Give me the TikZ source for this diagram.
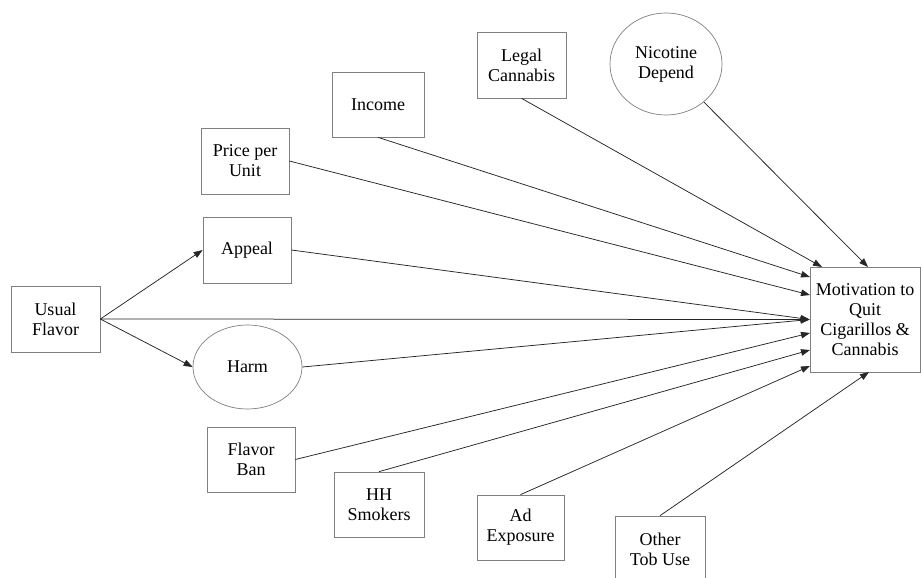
\documentclass[tikz,border=0pt]{standalone}
\usepackage{fontspec}
\setmainfont{Liberation Serif}
\usetikzlibrary{arrows.meta,shapes.geometric}
\begin{document}
\begin{tikzpicture}[x=1pt,y=-1pt,
  every node/.style={inner sep=0pt, align=center, font=\fontsize{18}{20}\selectfont},
  box/.style={draw=black!50, line width=0.7pt, rectangle},
  oval/.style={draw=black!50, line width=0.7pt, ellipse},
  arr/.style={draw=black!85, line width=0.75pt, -{Triangle[length=9pt,width=6.5pt]}}
]
\useasboundingbox (0,0) rectangle (921,578);
\clip (0,0) rectangle (921,578);
\fill[white] (0,0) rectangle (921,578);

\node[box, minimum width=89pt, minimum height=66pt] (uf) at (55.5,319) {Usual\\Flavor};
\node[box, minimum width=88pt, minimum height=66pt] (appeal) at (247,250) {Appeal};
\node[oval, minimum width=109pt, minimum height=84pt] (harm) at (247.5,367) {Harm};
\node[box, minimum width=88pt, minimum height=66pt] (price) at (245,161) {Price per\\Unit};
\node[box, minimum width=92pt, minimum height=65pt] (income) at (378,104.5) {Income};
\node[box, minimum width=89pt, minimum height=66pt] (legal) at (521.5,65) {Legal\\Cannabis};
\node[oval, minimum width=112pt, minimum height=102pt] (nic) at (666,64) {Nicotine\\Depend};
\node[box, minimum width=110pt, minimum height=105pt] (mot) at (865,319.5) {Motivation to\\Quit\\Cigarillos \&\\Cannabis};
\node[box, minimum width=88pt, minimum height=65pt] (fban) at (251,459.5) {Flavor\\Ban};
\node[box, minimum width=90pt, minimum height=65pt] (hh) at (379,504.5) {HH\\Smokers};
\node[box, minimum width=87pt, minimum height=65pt] (ad) at (520.5,527.5) {Ad\\Exposure};
\node[box, minimum width=90pt, minimum height=66pt] (other) at (660,549) {Other\\Tob Use};

\coordinate (tLegal) at (822,267);
\coordinate (tNic) at (868,267);
\coordinate (tInc) at (810,277);
\coordinate (tPrice) at (810,295);
\coordinate (tFban) at (810,333);
\coordinate (tHH) at (810,350);
\coordinate (tAd) at (810,366);
\coordinate (tOther) at (869,372);

\draw[arr] (uf.east) -- (appeal.west);
\draw[arr] (uf.east) -- (harm.west);
\draw[arr] (uf.east) -- (mot.west);
\draw[arr] (appeal.east) -- (mot.west);
\draw[arr] (harm.east) -- (mot.west);
\draw[arr] (price.east) -- (tPrice);
\draw[arr] (income.south) -- (tInc);
\draw[arr] (legal.south) -- (tLegal);
\draw[arr] (nic) -- (tNic);
\draw[arr] (fban.east) -- (tFban);
\draw[arr] (hh.north) -- (tHH);
\draw[arr] (ad.north) -- (tAd);
\draw[arr] (other.north) -- (tOther);
\end{tikzpicture}
\end{document}
